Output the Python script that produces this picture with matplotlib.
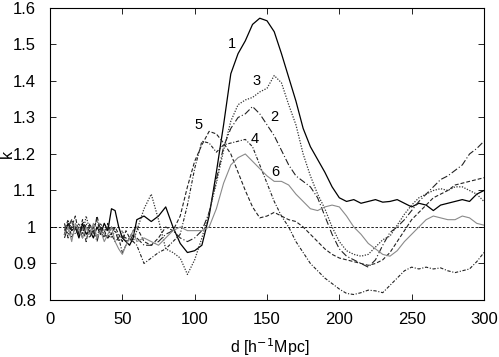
import numpy as np
import matplotlib
matplotlib.use("Agg")
import matplotlib.pyplot as plt

plt.rcParams['font.family'] = ['Liberation Sans', 'DejaVu Sans']

# shared abscissa: fine step at small d, coarser beyond
d_values = [10, 12.5, 15, 17.5, 20, 22.5, 25, 27.5, 30, 32.5, 35, 37.5, 40, 42.5, 45,
            47.5, 50, 52.5, 55, 57.5, 60,
            65, 70, 75, 80, 85, 90, 95, 100, 105, 110, 115, 120, 125, 130, 135, 140,
            145, 150, 155, 160, 165, 170, 175, 180, 185, 190, 195, 200, 205, 210, 215,
            220, 225, 230, 235, 240, 245, 250, 255, 260, 265, 270, 275, 280, 285, 290,
            295, 300]

k1 = [0.98, 1.01, 0.99, 1.00, 0.97, 1.01, 0.98, 0.99, 0.97, 1.00, 0.98, 1.01, 0.99, 1.05, 1.045,
      1.00, 0.97, 0.96, 0.95, 0.97, 1.02,
      1.03, 1.015, 1.03, 1.055, 1.00, 0.955, 0.93, 0.935, 0.95, 1.03, 1.15, 1.28, 1.42, 1.475,
      1.51, 1.555, 1.572, 1.565, 1.535, 1.475, 1.41, 1.345, 1.27, 1.22, 1.185, 1.15, 1.11, 1.08,
      1.07, 1.075, 1.065, 1.07, 1.075, 1.068, 1.07, 1.075, 1.065, 1.055, 1.065, 1.06, 1.045,
      1.06, 1.065, 1.07, 1.075, 1.07, 1.09, 1.10]

k2 = [0.97, 1.00, 1.02, 0.98, 1.00, 0.97, 1.01, 0.98, 0.99, 0.96, 1.00, 0.98, 0.97, 1.00, 0.99,
      0.96, 0.975, 0.97, 0.96, 0.98, 0.97,
      0.95, 0.95, 0.96, 0.98, 0.99, 0.97, 0.96, 0.97, 0.99, 1.04, 1.13, 1.22, 1.27, 1.30,
      1.31, 1.33, 1.31, 1.28, 1.25, 1.21, 1.17, 1.14, 1.125, 1.11, 1.08, 1.03, 0.98, 0.94,
      0.92, 0.91, 0.90, 0.89, 0.91, 0.95, 0.985, 1.00, 1.02, 1.045, 1.07, 1.09, 1.11,
      1.13, 1.14, 1.155, 1.17, 1.20, 1.215, 1.235]

k3 = [1.00, 0.98, 1.02, 0.99, 1.01, 0.98, 1.03, 0.99, 1.00, 0.97, 1.01, 0.99, 1.00, 0.97, 0.99,
      0.97, 0.99, 0.96, 0.97, 0.96, 0.99,
      1.05, 1.09, 1.02, 0.94, 0.93, 0.915, 0.87, 0.91, 0.97, 1.04, 1.12, 1.21, 1.29, 1.335,
      1.348, 1.355, 1.37, 1.38, 1.415, 1.395, 1.335, 1.28, 1.20, 1.14, 1.09, 1.05, 1.00, 0.96,
      0.935, 0.925, 0.92, 0.925, 0.945, 0.965, 0.975, 1.005, 1.035, 1.06, 1.08, 1.09, 1.10,
      1.105, 1.10, 1.11, 1.11, 1.10, 1.09, 1.07]

k4 = [0.99, 1.02, 0.97, 1.00, 0.98, 1.02, 0.99, 0.97, 1.00, 1.02, 0.98, 0.99, 0.97, 0.98, 0.96,
      0.97, 0.93, 0.95, 0.97, 0.96, 0.95,
      0.90, 0.915, 0.93, 0.94, 0.96, 0.98, 1.06, 1.16, 1.235, 1.23, 1.205, 1.225, 1.23, 1.235,
      1.24, 1.22, 1.17, 1.12, 1.07, 1.03, 1.00, 0.96, 0.93, 0.90, 0.88, 0.86, 0.845, 0.83,
      0.818, 0.815, 0.82, 0.827, 0.825, 0.82, 0.84, 0.86, 0.88, 0.89, 0.885, 0.89, 0.885,
      0.888, 0.88, 0.875, 0.88, 0.885, 0.905, 0.93]

k5 = [1.01, 0.97, 1.00, 1.03, 0.98, 1.00, 0.96, 1.01, 0.98, 1.03, 0.99, 0.97, 1.01, 0.98, 1.00,
      0.98, 0.96, 0.99, 0.97, 0.99, 1.00,
      0.96, 0.95, 0.97, 1.00, 0.99, 1.03, 1.11, 1.18, 1.225, 1.262, 1.255, 1.23, 1.20, 1.15,
      1.10, 1.055, 1.025, 1.03, 1.04, 1.03, 1.02, 1.015, 1.00, 0.98, 0.96, 0.94, 0.925, 0.915,
      0.91, 0.905, 0.90, 0.895, 0.90, 0.91, 0.93, 0.96, 0.99, 1.02, 1.04, 1.06, 1.08,
      1.09, 1.10, 1.115, 1.12, 1.125, 1.13, 1.135]

k6 = [0.98, 1.00, 0.96, 1.01, 0.99, 0.97, 1.00, 0.98, 1.01, 0.97, 0.99, 0.96, 0.98, 1.00, 0.96,
      0.94, 0.925, 0.95, 0.97, 0.99, 0.96,
      0.97, 0.96, 0.95, 0.97, 0.99, 1.00, 0.99, 0.99, 0.99, 1.00, 1.05, 1.12, 1.17, 1.19,
      1.20, 1.18, 1.16, 1.14, 1.125, 1.125, 1.115, 1.09, 1.07, 1.05, 1.045, 1.055, 1.06, 1.055,
      1.03, 1.00, 0.98, 0.955, 0.94, 0.925, 0.92, 0.935, 0.96, 0.98, 1.00, 1.02, 1.03,
      1.025, 1.02, 1.02, 1.03, 1.025, 1.01, 1.005]

curve_labels = ["1", "2", "3", "4", "5", "6"]
label_x = [125.8, 155, 143, 141.7, 103, 156]
label_y = [1.50, 1.30, 1.40, 1.24, 1.28, 1.15]

x_ticks = [0, 50, 100, 150, 200, 250, 300]
y_ticks = [0.8, 0.9, 1.0, 1.1, 1.2, 1.3, 1.4, 1.5, 1.6]
y_ticklabels = ["0.8", "0.9", "1", "1.1", "1.2", "1.3", "1.4", "1.5", "1.6"]

fig = plt.figure(figsize=(4.99, 3.57), dpi=100)
ax = fig.add_axes([0.1002, 0.1597, 0.8697, 0.8179])

styles = [
    dict(color="black", linestyle="-", lw=0.9),
    dict(color="#222222", linestyle=(0, (6, 2, 1, 2)), lw=0.8),
    dict(color="#333333", linestyle=(0, (1, 1.2)), lw=0.9),
    dict(color="#222222", linestyle=(0, (3, 1.5, 1, 1.5)), lw=0.8),
    dict(color="#222222", linestyle=(0, (3.5, 1.8)), lw=0.8),
    dict(color="#8a8a8a", linestyle="-", lw=0.8),
]

ax.axhline(1.0, color="black", linestyle=(0, (3, 2)), lw=0.6)
for series, st in zip([k1, k2, k3, k4, k5, k6], styles):
    ax.plot(d_values, series, **st)

for lab, lx, ly in zip(curve_labels, label_x, label_y):
    ax.text(lx, ly, lab, fontsize=10.5, ha="center", va="center")

ax.set_xlim(0, 300)
ax.set_ylim(0.8, 1.6)
ax.set_xticks(x_ticks)
ax.set_yticks(y_ticks)
ax.set_yticklabels(y_ticklabels)
ax.tick_params(direction="in", top=True, right=True, labelsize=12, length=4, width=0.6)
ax.tick_params(axis="y", pad=10)
ax.tick_params(axis="x", pad=9)
for s in ax.spines.values():
    s.set_linewidth(0.8)
ax.set_xlabel(r"d [h$^{-1}$Mpc]", fontsize=11.5)
ax.xaxis.set_label_coords(0.507, -0.125)
ax.set_ylabel("k", fontsize=11.5, rotation=90)
ax.yaxis.set_label_coords(-0.082, 0.5)

fig.savefig("out.png", dpi=100)
